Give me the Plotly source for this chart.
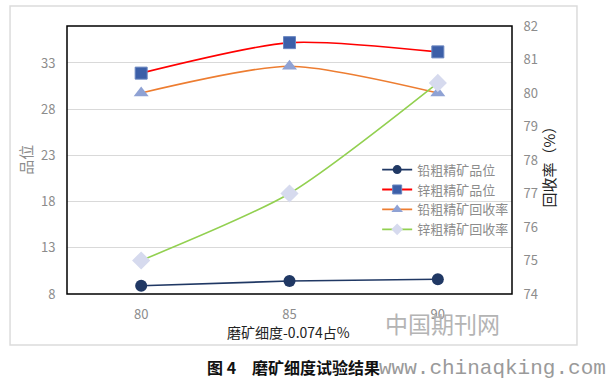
import plotly.graph_objects as go

fineness = [80, 85, 90]
lead_grade = [8.9, 9.4, 9.6]
zinc_grade = [31.9, 35.2, 34.2]
lead_rec = [80.0, 80.8, 80.0]
zinc_rec = [75.0, 77.0, 80.3]

names = ["铅粗精矿品位", "锌粗精矿品位", "铅粗精矿回收率", "锌粗精矿回收率"]
left_ticks = [8, 13, 18, 23, 28, 33]
right_ticks = [74, 75, 76, 77, 78, 79, 80, 81, 82]

FONT = "Noto Sans CJK SC"
TICKC = "#8c8c8c"

series = [
    dict(y=lead_grade, axis="y", line="#203864", sym="circle", size=12, mcol="#203864", mline=None, lsize=9),
    dict(y=zinc_grade, axis="y", line="#ff0000", sym="square", size=12, mcol="#3c5fa8", mline="#6a86c0", lsize=9),
    dict(y=lead_rec, axis="y2", line="#ed7d31", sym="triangle-up", size=13, mcol="#8fa2d4", mline=None, lsize=10),
    dict(y=zinc_rec, axis="y2", line="#92d050", sym="diamond", size=14, mcol="#d6daee", mline=None, lsize=9),
]

fig = go.Figure()
for name, s in zip(names, series):
    mline = dict(color=s["mline"], width=1) if s["mline"] else dict(width=0)
    fig.add_trace(go.Scatter(x=fineness, y=s["y"], name=name, mode="lines+markers", yaxis=s["axis"],
                             showlegend=False,
                             line=dict(color=s["line"], width=1.6, shape="spline", smoothing=0.7),
                             marker=dict(symbol=s["sym"], size=s["size"], color=s["mcol"], line=mline)))
for name, s in zip(names, series):
    mline = dict(color=s["mline"], width=1) if s["mline"] else dict(width=0)
    fig.add_trace(go.Scatter(x=[None], y=[None], name=name, mode="lines+markers", yaxis=s["axis"],
                             line=dict(color=s["line"], width=1.8),
                             marker=dict(symbol=s["sym"], size=s["lsize"], color=s["mcol"], line=mline)))

fig.update_layout(
    width=608, height=381,
    margin=dict(l=67, r=96, t=26, b=87),
    paper_bgcolor="white", plot_bgcolor="white",
    font=dict(family=FONT, size=13, color=TICKC),
    showlegend=True,
    legend=dict(x=0.697, y=0.52, xanchor="left", yanchor="top", bgcolor="rgba(0,0,0,0)",
                font=dict(family=FONT, size=13, color=TICKC), tracegroupgap=0, itemwidth=30),
    xaxis=dict(range=[77.5, 92.5], tickvals=fineness, ticktext=[str(v) for v in fineness],
               showgrid=False, zeroline=False, showline=False,
               ticks="outside", ticklen=8, tickcolor="rgba(0,0,0,0)",
               tickfont=dict(size=13, color=TICKC)),
    yaxis=dict(range=[8, 37], tickvals=left_ticks, showgrid=True, gridcolor="#d9d9d9", gridwidth=1,
               zeroline=False, showline=False, ticks="outside", ticklen=8,
               tickcolor="rgba(0,0,0,0)", tickfont=dict(size=13, color=TICKC)),
    yaxis2=dict(range=[74, 82], tickvals=right_ticks, overlaying="y", side="right",
                showgrid=False, zeroline=False, showline=False, ticks="outside", ticklen=8,
                tickcolor="rgba(0,0,0,0)", tickfont=dict(size=13, color=TICKC)),
)

# plot area border and outer frame
fig.add_shape(type="rect", xref="paper", yref="paper", x0=0, x1=1, y0=0, y1=1,
              line=dict(color="black", width=1.5), layer="above")
fig.add_shape(type="rect", xref="paper", yref="paper", x0=-0.128, x1=1.146, y0=-0.190, y1=1.0746,
              line=dict(color="#dcdcdc", width=1.5))

ann = [
    dict(text="品位", x=-0.095, y=0.5, textangle=-90, font=dict(size=15, color="#8c8c8c")),
    dict(text="回收率（%）", x=1.083, y=0.49, textangle=-90, font=dict(size=15, color="#222222")),
    dict(text="磨矿细度-0.074占%", x=0.497, y=-0.14, font=dict(size=14, color="#222222")),
    dict(text="中国期刊网", x=0.843, y=-0.108, font=dict(size=23, color="#b4b4b4")),
    dict(text="<b>图 4　磨矿细度试验结果</b>", x=0.508, y=-0.272, font=dict(size=16, color="#111111")),
    dict(text="www.chinaqking.com", x=0.957, y=-0.277,
         font=dict(family="Liberation Mono", size=21, color="#9a9a9a")),
]
for a in ann:
    fig.add_annotation(xref="paper", yref="paper", showarrow=False, xanchor="center", yanchor="middle", **a)

fig.write_html("out.html", config={"displayModeBar": False},
               post_script="document.body.style.margin='0';")
